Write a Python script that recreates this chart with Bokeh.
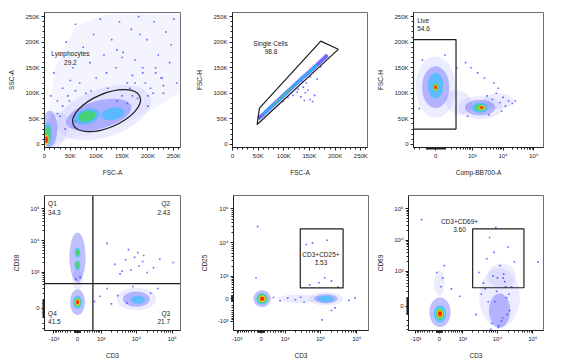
import numpy as np
from bokeh.plotting import figure
from bokeh.layouts import row, column
from bokeh.models import FixedTicker, Span, Range1d
from bokeh.core.properties import value
from bokeh.embed import file_html
from bokeh.resources import INLINE

FONT = "Liberation Sans"

# ---------------- texts ----------------
x_titles = ["FSC-A", "FSC-A", "Comp-BB700-A", "CD3", "CD3", "CD3"]
y_titles = ["SSC-A", "FSC-H", "FSC-H", "CD38", "CD25", "CD69"]
gate_names = ["Lymphocytes", "Single Cells", "Live", "Q1", "Q2", "Q4", "Q3", "CD3+CD25+", "CD3+CD69+"]
gate_pcts = ["29.2", "98.8", "54.6", "34.3", "2.43", "41.5", "21.7", "1.53", "3.60"]
lin_ticks = [0, 50000, 100000, 150000, 200000, 250000]
lin_tick_labels = ["0", "50K", "100K", "150K", "200K", "250K"]
log_ticks = [-1000, 0, 1000, 10000, 100000]
log_tick_labels = ["-10³", "0", "10³", "10⁴", "10⁵"]

# ---------------- panel 1: FSC-A / SSC-A ----------------
# populations: centre x, centre y, width, height, angle(deg), lowest/highest density level
p1_cx = [20000, 10000, 6500, 4000, 115000, 105000, 82000, 132000]
p1_cy = [25000, 30000, 20000, 9000, 62000, 58000, 55000, 60000]
p1_w = [45000, 30000, 15000, 8000, 190000, 130000, 50000, 46000]
p1_h = [80000, 72000, 46000, 20000, 95000, 55000, 30000, 24000]
p1_ang = [-20, 0, 0, 0, 18, 15, 15, 10]
p1_lo = [0, 1, 2, 4, 0, 1, 2, 2]
p1_hi = [0, 1, 3, 5, 0, 1, 3, 2]
p1_haze_x = [12000, 40000, 90000, 150000, 210000, 262000, 262000, 200000, 120000, 60000, 20000, 8000]
p1_haze_y = [0, 8000, 20000, 40000, 70000, 100000, 256000, 256000, 256000, 230000, 150000, 60000]
p1_dot_x = [12, 18, 25, 30, 35, 42, 48, 55, 60, 68, 75, 80, 88, 95, 100, 108, 115, 122, 130, 138, 145, 152,
            160, 168, 175, 182, 190, 198, 205, 212, 220, 228, 235, 242, 250, 256, 170, 200, 230, 150, 120,
            90, 60, 40, 245, 215, 185, 140,
            150, 165, 180, 195, 210, 225, 170, 190, 160, 140, 175, 200, 215, 230, 60, 45, 35, 50, 30, 25]
p1_dot_y = [95, 140, 60, 175, 110, 200, 85, 150, 235, 120, 190, 100, 160, 215, 130, 245, 175, 110, 205, 150,
            240, 180, 120, 225, 165, 250, 140, 205, 110, 240, 175, 130, 220, 160, 245, 120, 95, 75, 100, 170,
            140, 105, 45, 30, 195, 150, 215, 185,
            95, 110, 90, 120, 100, 130, 135, 150, 80, 85, 120, 95, 140, 115, 105, 95, 75, 125, 55, 85]
p1_gate = dict(x=120000, y=66000, w=140000, h=66000, angle=23)

# ---------------- panel 2: FSC-A / FSC-H ----------------
p2_band_x = [50000, 60000, 75000, 90000, 105000, 120000, 135000, 150000, 165000, 178000, 185000]
p2_band_y = [50000, 59000, 73000, 87000, 101000, 115000, 129000, 142000, 156000, 168000, 175000]
p2_dot_x = [118, 126, 133, 138, 142, 147, 151, 156, 160, 144, 136, 128, 165, 172, 98, 108, 152, 140]
p2_dot_y = [96, 102, 93, 112, 101, 106, 88, 84, 96, 120, 124, 108, 128, 152, 84, 92, 132, 86]
p2_gate_x = [48000, 52500, 172000, 206000]
p2_gate_y = [39000, 71000, 202000, 186000]

# ---------------- panel 3: Comp-BB700-A / FSC-H ----------------
p3_cx = [0, 0, 0, 1800, 1800, 2000, 350, 7000]
p3_cy = [112000, 115000, 112000, 72000, 72000, 72000, 82000, 85000]
p3_w = [1.3, 0.5, 0.2, 1.45, 0.55, 0.22, 0.9, 1.0]
p3_h = [120000, 50000, 16000, 45000, 20000, 8500, 45000, 30000]
p3_ang = [0, 0, 0, 0, 0, 0, -30, 0]
p3_lo = [0, 2, 3, 0, 2, 4, 0, 0]
p3_hi = [1, 2, 5, 1, 3, 5, 0, 0]
p3_dot_x = [3000, 4500, 6000, 8000, 10000, 12000, 15000, 20000, 5000, 7000, 2500, 1500, 900, 600, -150, -200,
            100, 300, 3500, 9000, 25000, 700]
p3_dot_y = [95, 88, 100, 82, 92, 75, 85, 80, 120, 110, 130, 140, 150, 160, 165, 70, 175, 150, 58, 65, 85, 55]
p3_gate_x = [-330, 283]
p3_gate_y = [30000, 205000]

# ---------------- panel 4: CD3 / CD38 ----------------
p4_cx = [0, 0, 0, 0, 0, 0, 10000, 11000]
p4_cy = [600, 3000, 4200, 1700, 70, 70, 110, 100]
p4_w = [0.3, 0.45, 0.16, 0.16, 0.42, 0.26, 1.1, 0.4]
p4_h = [0.7, 1.55, 0.3, 0.3, 0.8, 0.42, 0.7, 0.25]
p4_lo = [0, 1, 2, 2, 1, 2, 0, 2]
p4_hi = [0, 1, 3, 3, 1, 5, 1, 2]
p4_dot_x = [2500, 3500, 5000, 7000, 9000, 12000, 15000, 20000, 30000, 45000, 6000, 11000, 4000, 16000, 1500,
            900, 600, 2000, 25000, 8000, -50, 80, 20, 1500, 107000, 3000, 5500, 40000]
p4_dot_y = [1800, 900, 2500, 1200, 3000, 1600, 2200, 1000, 1400, 2600, 5200, 4200, 1100, 3400, 300, 150, 80,
            50, 200, 350, 600, 700, 450, 8150, 2050, 160, 60, 300]
p4_quad = dict(x=530, y=440)

# ---------------- panel 5: CD3 / CD25 ----------------
p5_cx = [30, 30, 14000, 14000, 2500]
p5_cy = [0, 0, 0, 0, 0]
p5_w = [0.48, 0.26, 0.95, 0.45, 1.2]
p5_h = [0.5, 0.28, 0.4, 0.2, 0.25]
p5_lo = [1, 3, 0, 2, 0]
p5_hi = [2, 5, 1, 2, 0]
p5_dot_x = [4000, 6000, 9000, 13000, 20000, 8000, 5000, 15000, 30000, 400, 700, 1200, 2000, 2800, -100, 60000,
            11000, -150, 3500, 25000, 90000, 20000]
p5_dot_y = [9000, 10000, 600, 900, 700, 3000, 500, 12000, 400, 40, -60, 20, -30, 50, 30000, -50, -900, 900,
            -100, -300, 30, -400]
p5_gate_x = [2740, 41800]
p5_gate_y = [370, 25700]

# ---------------- panel 6: CD3 / CD69 ----------------
p6_cx = [20, 20, 0, 11500, 11500, 13000]
p6_cy = [-70, -90, 400, 100, -50, 700]
p6_w = [0.6, 0.36, 0.3, 1.15, 0.6, 0.8]
p6_h = [0.95, 0.55, 0.8, 1.9, 1.1, 0.8]
p6_lo = [1, 2, 0, 0, 1, 0]
p6_hi = [1, 5, 0, 0, 1, 0]
p6_dot_x = [3000, 5000, 8000, 12000, 20000, 30000, 6000, 10000, 15000, 4000, 25000, 9000, 100, -80, 150, 50,
            400, 800, -650, 140000, 2500, 7000, 14000, 18000, 9500, 5500, 22000, 11000, 3500, 16000,
            6500, 8500, 13000, 17000, 21000, 7500, 10500, 14500, 19000, 4500]
p6_dot_y = [900, 2500, 4000, 1500, 6000, 2000, 12000, 600, 800, 400, 300, 25000, 600, 900, 1500, 300, 250, 120,
            45000, 1950, -100, -250, -150, 100, 200, 50, -50, -300, 150, 450,
            -400, 50, -200, 300, 150, 700, -350, 600, -100, 250]
p6_gate_x = [1975, 56100]
p6_gate_y = [275, 22800]

# ---------------- styling helpers ----------------
LEVEL_COLORS = ["#a8a8ff", "#3a3aff", "#18c4ff", "#3cdc3c", "#ffe100", "#ff2000"]
LEVEL_ALPHAS = [0.22, 0.32, 0.55, 0.7, 0.85, 0.92]
LEVEL_SCALE = [1.0, 0.68, 0.48, 0.33, 0.22, 0.14]
TXT = "#222222"


def ident(v):
    return np.asarray(v, dtype=float)


def logicle(c):
    def f(v):
        return np.arcsinh(np.asarray(v, dtype=float) / c) / np.log(10)
    return f


def make_fig(width, height, left, right, top, bottom, xr, yr, xt, yt):
    p = figure(width=width, height=height, x_range=Range1d(*xr), y_range=Range1d(*yr),
               output_backend="svg", toolbar_location=None,
               min_border_left=left, min_border_right=right,
               min_border_top=top, min_border_bottom=bottom)
    p.grid.visible = False
    p.outline_line_color = "#6e6e6e"
    p.outline_line_width = 1
    p.background_fill_color = "white"
    p.border_fill_color = "white"
    p.xaxis.axis_label = xt
    p.yaxis.axis_label = yt
    for ax in (p.xaxis[0], p.yaxis[0]):
        ax.axis_line_color = "#222222"
        ax.major_tick_line_color = "#222222"
        ax.minor_tick_line_color = "#222222"
        ax.major_tick_out = 3
        ax.major_tick_in = 0
        ax.minor_tick_out = 2
        ax.minor_tick_in = 0
        ax.major_label_text_font = FONT
        ax.major_label_text_font_size = "6px"
        ax.major_label_text_color = TXT
        ax.major_label_standoff = 2
        ax.axis_label_text_font = FONT
        ax.axis_label_text_font_size = "6.5px"
        ax.axis_label_text_font_style = "normal"
        ax.axis_label_text_color = TXT
        ax.axis_label_standoff = 7
    return p


def lin_axis(ax):
    ax.ticker = FixedTicker(ticks=lin_ticks, minor_ticks=list(range(0, 262001, 10000)))
    ax.major_label_overrides = {t: l for t, l in zip(lin_ticks, lin_tick_labels)}


def log_axis(ax, f, lo, hi):
    majors = []
    for v, lab in zip(log_ticks, log_tick_labels):
        t = round(float(f(v)), 6)
        if lo <= t <= hi:
            majors.append((t, lab))
    minors = []
    for n in range(1, 5):
        for k in range(1, 10):
            for s in (1, -1):
                t = round(float(f(s * k * 10 ** n)), 6)
                if lo <= t <= hi:
                    minors.append(t)
    ax.ticker = FixedTicker(ticks=[m for m, _ in majors], minor_ticks=minors)
    ax.major_label_overrides = {m: lab for m, lab in majors}


def draw_levels(p, fx, fy, cx, cy, w, h, ang, lo, hi, levels):
    X = fx(cx)
    Y = fy(cy)
    for lev in levels:
        xs, ys, ws, hs, an = [], [], [], [], []
        for i in range(len(cx)):
            if lo[i] <= lev <= hi[i]:
                s = LEVEL_SCALE[lev - lo[i]]
                xs.append(float(X[i]))
                ys.append(float(Y[i]))
                ws.append(w[i] * s)
                hs.append(h[i] * s)
                an.append(ang[i])
        if xs:
            p.ellipse(x=xs, y=ys, width=ws, height=hs, angle=an, angle_units="deg",
                      fill_color=LEVEL_COLORS[lev], fill_alpha=LEVEL_ALPHAS[lev], line_color=None)


def dots(p, xs, ys):
    p.scatter(x=list(xs), y=list(ys), marker="square", size=1.6,
              fill_color="#3535ff", line_color=None, fill_alpha=0.75)


def label(p, x, y, txt, align="center"):
    p.text(x=[x], y=[y], text=[txt], text_font=value(FONT), text_font_size="6.5px",
           text_align=align, text_baseline="middle", text_color=TXT)


GATE = "#1e1e1e"

# ---------------- panel 1 ----------------
f1 = make_fig(190, 178, 44, 10, 12, 31, (0, 263000), (-6000, 258000), x_titles[0], y_titles[0])
lin_axis(f1.xaxis[0]); lin_axis(f1.yaxis[0])
f1.patch(p1_haze_x, p1_haze_y, fill_color=LEVEL_COLORS[0], fill_alpha=0.12, line_color=None)
draw_levels(f1, ident, ident, p1_cx, p1_cy, p1_w, p1_h, p1_ang, p1_lo, p1_hi, [0, 1])
dots(f1, np.array(p1_dot_x) * 1000, np.array(p1_dot_y) * 1000)
draw_levels(f1, ident, ident, p1_cx, p1_cy, p1_w, p1_h, p1_ang, p1_lo, p1_hi, [2, 3, 4, 5])
f1.ellipse(x=[p1_gate["x"]], y=[p1_gate["y"]], width=[p1_gate["w"]], height=[p1_gate["h"]],
           angle=[p1_gate["angle"]], angle_units="deg", fill_color=None, line_color=GATE, line_width=1.2)
label(f1, 50000, 178000, gate_names[0])
label(f1, 50000, 160000, gate_pcts[0])

# ---------------- panel 2 ----------------
f2 = make_fig(184, 178, 42, 7, 12, 31, (0, 263000), (-6000, 258000), x_titles[1], y_titles[1])
lin_axis(f2.xaxis[0]); lin_axis(f2.yaxis[0])
dots(f2, np.array(p2_dot_x) * 1000, np.array(p2_dot_y) * 1000)
f2.line(p2_band_x, p2_band_y, line_width=5, line_color=LEVEL_COLORS[0], line_alpha=0.5)
f2.line(p2_band_x, p2_band_y, line_width=3.4, line_color=LEVEL_COLORS[1], line_alpha=0.7)
f2.line(p2_band_x[1:9], p2_band_y[1:9], line_width=2.0, line_color=LEVEL_COLORS[2], line_alpha=0.85)
f2.line(p2_band_x[2:6], p2_band_y[2:6], line_width=1.0, line_color=LEVEL_COLORS[3], line_alpha=0.9)
f2.patch(p2_gate_x, p2_gate_y, fill_color=None, line_color=GATE, line_width=1.2)
label(f2, 74000, 197000, gate_names[1])
label(f2, 75000, 181000, gate_pcts[1])

# ---------------- panel 3 ----------------
fx3 = logicle(130)
f3 = make_fig(192, 178, 34, 23, 12, 31, (-0.72, 3.5), (-6000, 258000), x_titles[2], y_titles[2])
log_axis(f3.xaxis[0], fx3, -0.72, 3.5); lin_axis(f3.yaxis[0])
draw_levels(f3, fx3, ident, p3_cx, p3_cy, p3_w, p3_h, p3_ang, p3_lo, p3_hi, [0, 1])
dots(f3, fx3(p3_dot_x), np.array(p3_dot_y) * 1000)
draw_levels(f3, fx3, ident, p3_cx, p3_cy, p3_w, p3_h, p3_ang, p3_lo, p3_hi, [2, 3, 4, 5])
g3x = fx3(p3_gate_x)
f3.quad(left=[g3x[0]], right=[g3x[1]], bottom=[p3_gate_y[0]], top=[p3_gate_y[1]],
        fill_color=None, line_color=GATE, line_width=1.2)
label(f3, -0.6, 242000, gate_names[2], "left")
label(f3, -0.6, 226000, gate_pcts[2], "left")

# ---------------- panel 4 ----------------
fx = logicle(459)
fy4 = logicle(151)
f4 = make_fig(190, 186, 44, 10, 17, 34, (-0.92, 2.87), (-0.69, 3.53), x_titles[3], y_titles[3])
log_axis(f4.xaxis[0], fx, -0.92, 2.87); log_axis(f4.yaxis[0], fy4, -0.69, 3.53)
z4 = [0] * len(p4_cx)
draw_levels(f4, fx, fy4, p4_cx, p4_cy, p4_w, p4_h, z4, p4_lo, p4_hi, [0, 1])
dots(f4, fx(p4_dot_x), fy4(p4_dot_y))
draw_levels(f4, fx, fy4, p4_cx, p4_cy, p4_w, p4_h, z4, p4_lo, p4_hi, [2, 3, 4, 5])
f4.add_layout(Span(location=float(fx(p4_quad["x"])), dimension="height", line_color=GATE, line_width=1.3))
f4.add_layout(Span(location=float(fy4(p4_quad["y"])), dimension="width", line_color=GATE, line_width=1.3))
label(f4, -0.82, 3.28, gate_names[3], "left")
label(f4, -0.82, 3.0, gate_pcts[3], "left")
label(f4, 2.58, 3.28, gate_names[4], "right")
label(f4, 2.58, 3.0, gate_pcts[4], "right")
label(f4, -0.82, -0.16, gate_names[5], "left")
label(f4, -0.82, -0.4, gate_pcts[5], "left")
label(f4, 2.58, -0.16, gate_names[6], "right")
label(f4, 2.58, -0.4, gate_pcts[6], "right")

# ---------------- panel 5 ----------------
f5 = make_fig(184, 186, 43, 6, 17, 34, (-0.76, 2.96), (-0.93, 3.03), x_titles[4], y_titles[4])
log_axis(f5.xaxis[0], fx, -0.76, 2.96); log_axis(f5.yaxis[0], fx, -0.93, 3.03)
z5 = [0] * len(p5_cx)
draw_levels(f5, fx, fx, p5_cx, p5_cy, p5_w, p5_h, z5, p5_lo, p5_hi, [0, 1])
dots(f5, fx(p5_dot_x), fx(p5_dot_y))
draw_levels(f5, fx, fx, p5_cx, p5_cy, p5_w, p5_h, z5, p5_lo, p5_hi, [2, 3, 4, 5])
g5x = fx(p5_gate_x); g5y = fx(p5_gate_y)
f5.quad(left=[g5x[0]], right=[g5x[1]], bottom=[g5y[0]], top=[g5y[1]],
        fill_color=None, line_color=GATE, line_width=1.2)
label(f5, 1.65, 1.3, gate_names[7])
label(f5, 1.65, 1.07, gate_pcts[7])

# ---------------- panel 6 ----------------
f6 = make_fig(192, 186, 34, 23, 17, 34, (-0.87, 2.94), (-0.78, 3.55), x_titles[5], y_titles[5])
log_axis(f6.xaxis[0], fx, -0.87, 2.94); log_axis(f6.yaxis[0], fy4, -0.78, 3.55)
z6 = [0] * len(p6_cx)
draw_levels(f6, fx, fy4, p6_cx, p6_cy, p6_w, p6_h, z6, p6_lo, p6_hi, [0, 1])
dots(f6, fx(p6_dot_x), fy4(p6_dot_y))
draw_levels(f6, fx, fy4, p6_cx, p6_cy, p6_w, p6_h, z6, p6_lo, p6_hi, [2, 3, 4, 5])
g6x = fx(p6_gate_x); g6y = fy4(p6_gate_y)
f6.quad(left=[g6x[0]], right=[g6x[1]], bottom=[g6y[0]], top=[g6y[1]],
        fill_color=None, line_color=GATE, line_width=1.2)
label(f6, 0.57, 2.73, gate_names[8])
label(f6, 0.57, 2.46, gate_pcts[8])

layout = column(row(f1, f2, f3), row(f4, f5, f6))
open("out.html", "w").write(file_html(layout, INLINE))
